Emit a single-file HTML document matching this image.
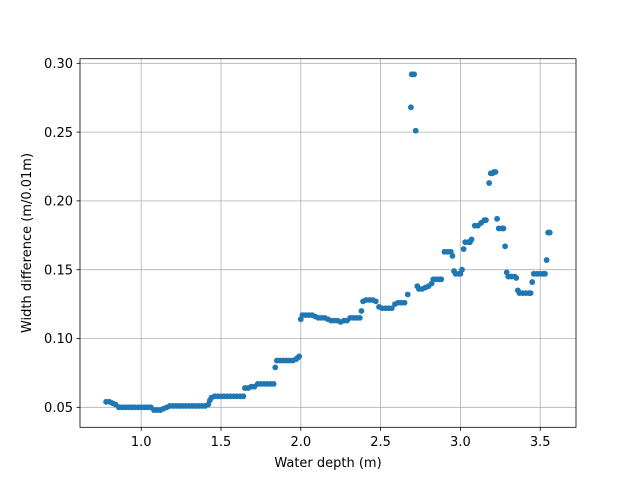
<!DOCTYPE html>
<html><head><meta charset="utf-8"><style>
body{margin:0;background:#fff;}
svg text{font-family:"DejaVu Sans","Liberation Sans",sans-serif;font-size:13px;fill:#000;}
</style></head><body>
<svg id="chart" width="640" height="480" xmlns="http://www.w3.org/2000/svg">
<rect x="0" y="0" width="640" height="480" fill="#fff"/>
<g id="grid"></g>
<g id="points"></g>
<rect x="80" y="58.7" width="496" height="368.6" fill="none" stroke="#000" stroke-width="0.8"/>
<g id="ticks"></g>
<text x="328" y="467" text-anchor="middle">Water depth (m)</text>
<text transform="translate(31,243) rotate(-90)" text-anchor="middle">Width difference (m/0.01m)</text>
</svg>
<script>
const depth = [0.78,0.80,0.82,0.84,0.86,0.88,0.90,0.92,0.94,0.96,0.98,1.00,1.02,1.04,1.06,1.08,1.10,1.12,1.14,1.16,1.18,1.20,1.22,1.24,1.26,1.28,1.30,1.32,1.34,1.36,1.38,1.40,1.42,1.43,1.44,1.46,1.48,1.50,1.52,1.54,1.56,1.58,1.60,1.62,1.64,1.65,1.67,1.69,1.71,1.73,1.75,1.77,1.79,1.81,1.83,1.84,1.85,1.87,1.89,1.91,1.93,1.95,1.97,1.98,1.99,2.00,2.01,2.03,2.05,2.07,2.09,2.11,2.13,2.15,2.17,2.19,2.21,2.23,2.25,2.27,2.29,2.31,2.33,2.35,2.37,2.38,2.39,2.41,2.43,2.45,2.47,2.49,2.51,2.53,2.55,2.57,2.59,2.61,2.63,2.65,2.67,2.69,2.695,2.71,2.72,2.73,2.74,2.76,2.78,2.80,2.82,2.83,2.85,2.87,2.88,2.90,2.92,2.94,2.95,2.96,2.97,2.99,3.00,3.01,3.02,3.03,3.05,3.06,3.07,3.09,3.11,3.13,3.15,3.16,3.18,3.19,3.20,3.21,3.22,3.23,3.24,3.26,3.27,3.28,3.29,3.30,3.32,3.34,3.35,3.36,3.37,3.39,3.41,3.43,3.44,3.45,3.46,3.48,3.50,3.52,3.53,3.54,3.55,3.56];
const width = [0.054,0.054,0.053,0.052,0.050,0.050,0.050,0.050,0.050,0.050,0.050,0.050,0.050,0.050,0.050,0.048,0.048,0.048,0.049,0.050,0.051,0.051,0.051,0.051,0.051,0.051,0.051,0.051,0.051,0.051,0.051,0.051,0.052,0.055,0.057,0.058,0.058,0.058,0.058,0.058,0.058,0.058,0.058,0.058,0.058,0.064,0.064,0.065,0.065,0.067,0.067,0.067,0.067,0.067,0.067,0.079,0.084,0.084,0.084,0.084,0.084,0.084,0.085,0.086,0.087,0.114,0.117,0.117,0.117,0.117,0.116,0.115,0.115,0.115,0.114,0.113,0.113,0.113,0.112,0.113,0.113,0.115,0.115,0.115,0.115,0.120,0.127,0.128,0.128,0.128,0.127,0.123,0.122,0.122,0.122,0.122,0.125,0.126,0.126,0.126,0.132,0.268,0.292,0.292,0.251,0.138,0.136,0.136,0.137,0.138,0.140,0.143,0.143,0.143,0.143,0.163,0.163,0.163,0.160,0.149,0.147,0.147,0.147,0.150,0.165,0.170,0.170,0.170,0.172,0.182,0.182,0.184,0.186,0.186,0.213,0.220,0.220,0.221,0.221,0.187,0.180,0.180,0.180,0.167,0.148,0.145,0.145,0.145,0.144,0.135,0.133,0.133,0.133,0.133,0.133,0.141,0.147,0.147,0.147,0.147,0.147,0.157,0.177,0.177];
const xTicks = [1.0,1.5,2.0,2.5,3.0,3.5];
const yTicks = [0.05,0.10,0.15,0.20,0.25,0.30];
const xTickLabels = ["1.0","1.5","2.0","2.5","3.0","3.5"];
const yTickLabels = ["0.05","0.10","0.15","0.20","0.25","0.30"];

const NS="http://www.w3.org/2000/svg";
function xS(v){return 141.2+(v-1.0)*159.6;}
function yS(v){return 407.3-(v-0.05)*1376;}
const grid=document.getElementById('grid'),ticks=document.getElementById('ticks'),pts=document.getElementById('points');
function mk(tag,attrs,parent){const e=document.createElementNS(NS,tag);for(const k in attrs)e.setAttribute(k,attrs[k]);parent.appendChild(e);return e;}
xTicks.forEach((t,i)=>{
  const x=xS(t);
  const g=mk('line',{x1:x,x2:x,y1:58.7,y2:427.3,stroke:'#b0b0b0','stroke-width':0.8},grid);
  
  
  const tk=mk('line',{x1:x,x2:x,y1:427.3,y2:430.8,stroke:'#000','stroke-width':0.8},ticks);
  
  
  const tx=mk('text',{x:x,y:446,'text-anchor':'middle'},ticks);
  tx.textContent=xTickLabels[i];
  
  
});
yTicks.forEach((t,i)=>{
  const y=yS(t);
  const g=mk('line',{x1:80,x2:576,y1:y,y2:y,stroke:'#b0b0b0','stroke-width':0.8},grid);
  
  
  const tk=mk('line',{x1:76.5,x2:80,y1:y,y2:y,stroke:'#000','stroke-width':0.8},ticks);
  
  
  const tx=mk('text',{x:73,y:y+4.7,'text-anchor':'end'},ticks);
  tx.textContent=yTickLabels[i];
  
  
});
depth.forEach((d,i)=>{
  const c=mk('circle',{cx:xS(d),cy:yS(width[i]),r:2.9,fill:'#1f77b4'},pts);
  
  
});
</script>
</body></html>
